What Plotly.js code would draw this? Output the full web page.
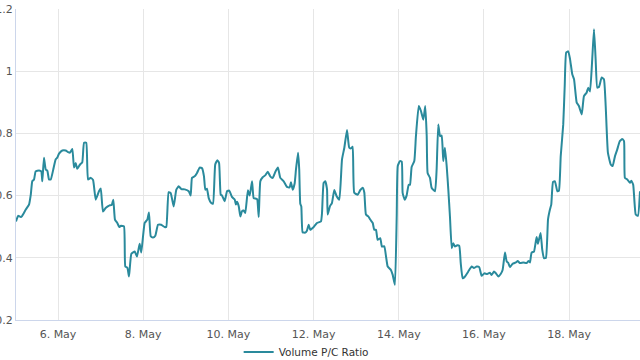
<!DOCTYPE html>
<html><head><meta charset="utf-8">
<script src="https://cdn.plot.ly/plotly-3.0.1.min.js"></script>
<style>html,body{margin:0;padding:0;background:#fff}#chart{width:640px;height:360px}</style>
</head><body><div id="chart"></div>
<script>
var seriesName = "Volume P/C Ratio";
var times = [
"2024-05-05 00:20","2024-05-05 01:30","2024-05-05 03:00","2024-05-05 03:50","2024-05-05 05:50","2024-05-05 07:40","2024-05-05 08:40","2024-05-05 09:30","2024-05-05 10:30","2024-05-05 11:25",
"2024-05-05 13:20","2024-05-05 14:35","2024-05-05 15:10","2024-05-05 16:05","2024-05-05 17:05","2024-05-05 18:00","2024-05-05 18:55","2024-05-05 19:55","2024-05-05 21:20","2024-05-05 22:40",
"2024-05-05 23:35","2024-05-06 00:35","2024-05-06 02:25","2024-05-06 04:20","2024-05-06 05:40","2024-05-06 06:45","2024-05-06 08:05","2024-05-06 09:00","2024-05-06 10:00","2024-05-06 10:50",
"2024-05-06 12:25","2024-05-06 13:40","2024-05-06 14:40","2024-05-06 15:55","2024-05-06 16:55","2024-05-06 18:25","2024-05-06 19:45","2024-05-06 21:15","2024-05-06 23:05","2024-05-07 00:05",
"2024-05-07 01:20","2024-05-07 02:50","2024-05-07 04:45","2024-05-07 06:15","2024-05-07 07:10","2024-05-07 08:05","2024-05-07 09:25","2024-05-07 10:30","2024-05-07 11:30","2024-05-07 13:10",
"2024-05-07 13:55","2024-05-07 15:05","2024-05-07 16:00","2024-05-07 17:20","2024-05-07 19:15","2024-05-07 20:30","2024-05-07 22:00","2024-05-07 22:55","2024-05-08 00:50","2024-05-08 02:20",
"2024-05-08 03:15","2024-05-08 04:15","2024-05-08 05:30","2024-05-08 06:50","2024-05-08 08:20","2024-05-08 10:10","2024-05-08 12:05","2024-05-08 13:00","2024-05-08 14:20","2024-05-08 15:30",
"2024-05-08 17:10","2024-05-08 18:40","2024-05-08 20:00","2024-05-08 21:30","2024-05-08 23:25","2024-05-09 01:40","2024-05-09 02:45","2024-05-09 03:30","2024-05-09 05:00","2024-05-09 06:20",
"2024-05-09 07:50","2024-05-09 09:10","2024-05-09 10:15","2024-05-09 11:00","2024-05-09 11:55","2024-05-09 12:55","2024-05-09 14:20","2024-05-09 15:20","2024-05-09 16:35","2024-05-09 17:45",
"2024-05-09 18:45","2024-05-09 19:40","2024-05-09 20:25","2024-05-09 21:55","2024-05-09 23:15","2024-05-10 00:30","2024-05-10 02:00","2024-05-10 03:35","2024-05-10 04:15","2024-05-10 04:50",
"2024-05-10 05:50","2024-05-10 06:45","2024-05-10 07:40","2024-05-10 08:35","2024-05-10 09:30","2024-05-10 11:00","2024-05-10 12:00","2024-05-10 13:20","2024-05-10 14:15","2024-05-10 15:35",
"2024-05-10 16:15","2024-05-10 17:05","2024-05-10 18:00","2024-05-10 19:20","2024-05-10 20:45","2024-05-10 22:10","2024-05-10 23:35","2024-05-11 01:00","2024-05-11 02:25","2024-05-11 03:55",
"2024-05-11 05:15","2024-05-11 07:10","2024-05-11 09:00","2024-05-11 10:30","2024-05-11 11:15","2024-05-11 12:15","2024-05-11 13:20","2024-05-11 14:05","2024-05-11 15:15","2024-05-11 15:55",
"2024-05-11 16:30","2024-05-11 17:05","2024-05-11 17:50","2024-05-11 19:20","2024-05-11 20:15","2024-05-11 21:15","2024-05-11 22:10","2024-05-12 00:05","2024-05-12 01:55","2024-05-12 04:10",
"2024-05-12 04:45","2024-05-12 05:40","2024-05-12 06:35","2024-05-12 07:35","2024-05-12 07:55","2024-05-12 09:15","2024-05-12 10:20","2024-05-12 11:40","2024-05-12 13:00","2024-05-12 14:30",
"2024-05-12 16:00","2024-05-12 17:20","2024-05-12 18:50","2024-05-12 20:05","2024-05-12 21:05","2024-05-12 22:00","2024-05-12 22:55","2024-05-13 00:50","2024-05-13 02:20","2024-05-13 03:40",
"2024-05-13 04:35","2024-05-13 05:30","2024-05-13 06:50","2024-05-13 07:55","2024-05-13 09:20","2024-05-13 10:10","2024-05-13 11:10","2024-05-13 12:05","2024-05-13 13:35","2024-05-13 14:30",
"2024-05-13 15:50","2024-05-13 16:50","2024-05-13 17:45","2024-05-13 19:35","2024-05-13 20:35","2024-05-13 21:50","2024-05-13 22:50","2024-05-13 23:25","2024-05-14 00:40","2024-05-14 01:40",
"2024-05-14 02:10","2024-05-14 03:20","2024-05-14 04:25","2024-05-14 05:35","2024-05-14 06:20","2024-05-14 07:15","2024-05-14 08:45","2024-05-14 09:40","2024-05-14 11:15","2024-05-14 12:30",
"2024-05-14 13:50","2024-05-14 14:55","2024-05-14 15:45","2024-05-14 16:15","2024-05-14 17:35","2024-05-14 18:30","2024-05-14 20:25","2024-05-14 21:20","2024-05-14 22:15","2024-05-14 23:15",
"2024-05-15 00:10","2024-05-15 01:05","2024-05-15 02:00","2024-05-15 03:00","2024-05-15 03:55","2024-05-15 04:50","2024-05-15 05:50","2024-05-15 06:40","2024-05-15 07:40","2024-05-15 08:55",
"2024-05-15 10:05","2024-05-15 10:55","2024-05-15 12:00","2024-05-15 13:20","2024-05-15 15:10","2024-05-15 17:05","2024-05-15 18:20","2024-05-15 19:55","2024-05-15 21:20","2024-05-15 22:40",
"2024-05-16 00:10","2024-05-16 01:50","2024-05-16 03:20","2024-05-16 04:20","2024-05-16 05:40","2024-05-16 06:45","2024-05-16 08:05","2024-05-16 09:25","2024-05-16 10:30","2024-05-16 11:50",
"2024-05-16 12:50","2024-05-16 13:40","2024-05-16 14:40","2024-05-16 16:10","2024-05-16 18:00","2024-05-16 19:00","2024-05-16 20:15","2024-05-16 22:10","2024-05-17 00:05","2024-05-17 01:00",
"2024-05-17 01:55","2024-05-17 02:50","2024-05-17 04:10","2024-05-17 05:40","2024-05-17 06:25","2024-05-17 07:55","2024-05-17 08:50","2024-05-17 09:50","2024-05-17 10:55","2024-05-17 12:05",
"2024-05-17 13:10","2024-05-17 13:55","2024-05-17 14:55","2024-05-17 16:00","2024-05-17 17:20","2024-05-17 18:15","2024-05-17 19:15","2024-05-17 20:40","2024-05-17 21:30","2024-05-17 22:20",
"2024-05-17 23:30","2024-05-18 00:30","2024-05-18 01:45","2024-05-18 02:45","2024-05-18 04:15","2024-05-18 05:30","2024-05-18 07:05","2024-05-18 08:20","2024-05-18 09:50","2024-05-18 10:45",
"2024-05-18 11:45","2024-05-18 13:00","2024-05-18 14:00","2024-05-18 14:55","2024-05-18 15:50","2024-05-18 16:50","2024-05-18 18:20","2024-05-18 19:35","2024-05-18 20:35","2024-05-18 21:50",
"2024-05-18 23:25","2024-05-19 00:30","2024-05-19 01:50","2024-05-19 03:05","2024-05-19 04:30","2024-05-19 05:55","2024-05-19 06:55","2024-05-19 07:25","2024-05-19 08:45","2024-05-19 10:15",
"2024-05-19 11:00","2024-05-19 12:05","2024-05-19 13:30","2024-05-19 14:45","2024-05-19 15:55"
];
var ratio = [
0.517,0.535,0.531,0.535,0.555,0.571,0.603,0.646,0.652,0.678,
0.681,0.678,0.646,0.722,0.684,0.680,0.652,0.652,0.684,0.716,
0.722,0.735,0.745,0.745,0.740,0.738,0.750,0.690,0.705,0.686,
0.700,0.707,0.770,0.770,0.652,0.657,0.650,0.587,0.614,0.623,
0.549,0.560,0.568,0.570,0.587,0.523,0.512,0.499,0.503,0.501,
0.372,0.368,0.340,0.413,0.420,0.404,0.445,0.417,0.512,0.523,
0.546,0.469,0.465,0.471,0.506,0.506,0.499,0.499,0.611,0.608,
0.565,0.619,0.630,0.621,0.620,0.614,0.600,0.657,0.662,0.673,
0.690,0.688,0.662,0.619,0.622,0.592,0.576,0.574,0.700,0.714,
0.705,0.603,0.600,0.582,0.614,0.616,0.596,0.587,0.571,0.580,
0.566,0.533,0.550,0.552,0.544,0.617,0.600,0.646,0.592,0.590,
0.588,0.531,0.646,0.659,0.665,0.677,0.662,0.657,0.676,0.690,
0.657,0.646,0.628,0.626,0.643,0.619,0.639,0.684,0.738,0.684,
0.574,0.565,0.482,0.481,0.487,0.506,0.490,0.499,0.512,0.517,
0.544,0.641,0.646,0.620,0.539,0.566,0.576,0.618,0.598,0.587,
0.716,0.754,0.811,0.754,0.752,0.757,0.609,0.603,0.618,0.625,
0.610,0.539,0.533,0.523,0.512,0.490,0.490,0.458,0.463,0.436,
0.437,0.404,0.372,0.361,0.345,0.313,0.533,0.695,0.711,0.709,
0.609,0.587,0.600,0.635,0.635,0.692,0.711,0.791,0.888,0.872,
0.844,0.888,0.791,0.673,0.657,0.625,0.614,0.684,0.829,0.791,
0.793,0.711,0.754,0.695,0.619,0.533,0.431,0.447,0.436,0.440,
0.438,0.383,0.334,0.340,0.356,0.372,0.367,0.372,0.370,0.342,
0.350,0.348,0.352,0.345,0.356,0.350,0.340,0.348,0.361,0.417,
0.388,0.384,0.370,0.381,0.385,0.390,0.383,0.385,0.383,0.390,
0.385,0.417,0.420,0.467,0.445,0.480,0.426,0.399,0.400,0.523,
0.555,0.571,0.644,0.646,0.614,0.616,0.727,0.829,0.953,1.060,
1.064,1.039,0.990,0.974,0.899,0.888,0.861,0.920,0.931,0.947,
0.935,1.039,1.135,1.039,0.947,0.950,0.980,0.974,0.888,0.738,
0.700,0.695,0.727,0.748,0.775,0.782,0.775,0.657,0.652,0.641,
0.648,0.635,0.539,0.535,0.614
];
var yTicks = [0.2, 0.4, 0.6, 0.8, 1, 1.2];
var yTickText = ["0.2", "0.4", "0.6", "0.8", "1", "1.2"];

var trace = {
  x: times, y: ratio, type: "scatter", mode: "lines", name: seriesName,
  line: {color: "#2a8a9c", width: 2, shape: "spline", smoothing: 0.4},
  showlegend: true
};
var layout = {
  width: 640, height: 360,
  margin: {l: 16, r: 0, t: 9, b: 40, autoexpand: false},
  paper_bgcolor: "#fff", plot_bgcolor: "#fff",
  font: {family: "DejaVu Sans, sans-serif", size: 11, color: "#666"},
  xaxis: {
    type: "date",
    range: ["2024-05-05 00:20", "2024-05-19 15:55"],
    tick0: "2024-05-06", dtick: 2 * 86400000,
    tickformat: "%-d. %b",
    showgrid: true, gridcolor: "#e6e6e6", gridwidth: 1,
    showline: true, linecolor: "#ccd6eb", linewidth: 1,
    ticks: "", zeroline: false, automargin: false, ticklabelstandoff: 4,
    tickfont: {size: 11, color: "#555"}
  },
  yaxis: {
    range: [0.2, 1.2],
    tickvals: yTicks, ticktext: yTickText,
    showgrid: true, gridcolor: "#e6e6e6", gridwidth: 1,
    showline: true, linecolor: "#ccd6eb", linewidth: 1,
    ticks: "", zeroline: false, automargin: false,
    tickfont: {size: 11, color: "#555"}
  },
  legend: {orientation: "h", xref: "paper", x: 0.465, xanchor: "center",
    yref: "container", y: 0.022, yanchor: "middle",
    font: {size: 10.5, color: "#333"}, bgcolor: "rgba(0,0,0,0)"},
  showlegend: true
};
Plotly.newPlot("chart", [trace], layout, {displayModeBar: false, staticPlot: true});
</script>
</body></html>
